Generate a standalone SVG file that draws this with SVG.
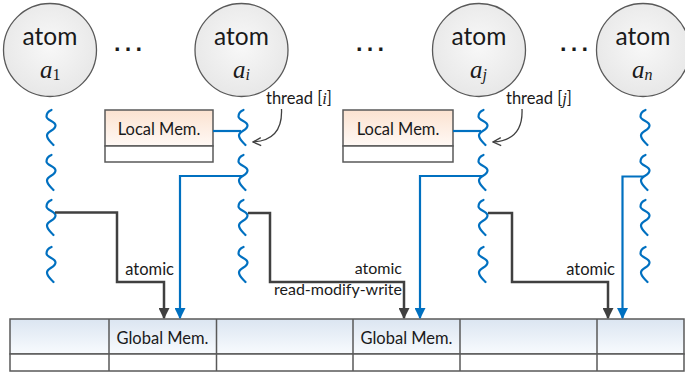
<svg xmlns="http://www.w3.org/2000/svg" xmlns:xlink="http://www.w3.org/1999/xlink" width="685" height="372" viewBox="0 0 685 372">
<defs>
<style>
.lbl{font-family:Lato,"Liberation Sans",sans-serif;font-size:16.5px;fill:#1a1a1a}
.sm{font-size:16px}
.atom{font-family:Lato,"Liberation Sans",sans-serif;font-size:24.5px;fill:#1a1a1a;text-anchor:middle}
.var{font-family:"Liberation Serif",serif;font-style:italic;font-size:25px;fill:#1a1a1a}
.sub{font-size:16px}
.node{fill:url(#gc);stroke:#595959;stroke-width:1.3}
.wave{fill:none;stroke:#0070c0;stroke-width:2.2;stroke-linecap:round}
.blk{fill:none;stroke:#404040;stroke-width:2.5}
.blu{fill:none;stroke:#0070c0;stroke-width:2.2}
.cell{stroke:#595959;stroke-width:1.5}
.dots{font-family:"Liberation Sans",sans-serif;font-size:34px;fill:#1a1a1a;text-anchor:middle}
</style>
<radialGradient id="gc" cx="0.5" cy="0.45" r="0.6">
<stop offset="0" stop-color="#f8f8f8"/>
<stop offset="1" stop-color="#e6e6e6"/>
</radialGradient>
<linearGradient id="gl" x1="0" y1="0" x2="0" y2="1">
<stop offset="0" stop-color="#fbe2d0"/>
<stop offset="1" stop-color="#fff9f5"/>
</linearGradient>
<linearGradient id="gg" x1="0" y1="0" x2="0" y2="1">
<stop offset="0" stop-color="#dbe5f1"/>
<stop offset="1" stop-color="#f8fbfe"/>
</linearGradient>
<path id="w" class="wave" d="M0.5,0 C-2,1 -4.5,3.5 -4.5,6.5 C-4.5,10.5 4.5,11 4.5,15.5 C4.5,20.5 -4,21 -4,25.5 C-4,29.5 0,32 2.5,35"/>
<marker id="ak" markerUnits="userSpaceOnUse" markerWidth="11" markerHeight="11" viewBox="0 0 10 10" refX="9" refY="5" orient="auto">
<path d="M0,0 L10,5 L0,10 z" fill="#404040"/>
</marker>
<marker id="ab" markerUnits="userSpaceOnUse" markerWidth="11" markerHeight="11" viewBox="0 0 10 10" refX="9" refY="5" orient="auto">
<path d="M0,0 L10,5 L0,10 z" fill="#0070c0"/>
</marker>
<marker id="ao" markerUnits="userSpaceOnUse" markerWidth="10" markerHeight="10" viewBox="0 0 10 10" refX="9" refY="5" orient="auto">
<path d="M1,1 L9,5 L1,9" fill="none" stroke="#404040" stroke-width="1.3"/>
</marker>
</defs>
<rect width="685" height="372" fill="#ffffff"/>

<g id="atom1">
<circle class="node" cx="50" cy="50" r="46.5"/>
<text class="atom" x="50" y="45">atom</text>
<text class="var" x="40" y="78">a<tspan class="sub" font-style="normal" dy="2">1</tspan></text>
</g>
<g id="atomi">
<circle class="node" cx="241.5" cy="50" r="46.5"/>
<text class="atom" x="241.5" y="45">atom</text>
<text class="var" x="233" y="78">a<tspan class="sub" dy="2">i</tspan></text>
</g>
<g id="atomj">
<circle class="node" cx="479" cy="50" r="46.5"/>
<text class="atom" x="479" y="45">atom</text>
<text class="var" x="470" y="78">a<tspan class="sub" dy="2">j</tspan></text>
</g>
<g id="atomn">
<circle class="node" cx="643" cy="50" r="46.5"/>
<text class="atom" x="643" y="45">atom</text>
<text class="var" x="632" y="78">a<tspan class="sub" dy="2">n</tspan></text>
</g>

<g id="ellipses">
<text class="dots" x="128" y="51">…</text>
<text class="dots" x="370" y="51">…</text>
<text class="dots" x="574" y="51">…</text>
</g>

<g id="threads">
<use xlink:href="#w" x="51" y="110"/><use xlink:href="#w" x="51" y="155"/><use xlink:href="#w" x="51" y="200"/><use xlink:href="#w" x="51" y="247"/>
<use xlink:href="#w" x="243" y="110"/><use xlink:href="#w" x="243" y="155"/><use xlink:href="#w" x="243" y="200"/><use xlink:href="#w" x="243" y="247"/>
<use xlink:href="#w" x="483" y="110"/><use xlink:href="#w" x="483" y="155"/><use xlink:href="#w" x="483" y="200"/><use xlink:href="#w" x="483" y="247"/>
<use xlink:href="#w" x="645" y="110"/><use xlink:href="#w" x="645" y="155"/><use xlink:href="#w" x="645" y="200"/><use xlink:href="#w" x="645" y="247"/>
</g>

<g id="localmem1">
<rect x="105" y="110" width="108" height="36" fill="url(#gl)" class="cell"/>
<rect x="105" y="146" width="108" height="16" fill="#ffffff" class="cell"/>
<text class="lbl" x="159" y="135" text-anchor="middle">Local Mem.</text>
</g>
<g id="localmem2">
<rect x="343" y="110" width="110" height="36" fill="url(#gl)" class="cell"/>
<rect x="343" y="146" width="110" height="16" fill="#ffffff" class="cell"/>
<text class="lbl" x="398" y="135" text-anchor="middle">Local Mem.</text>
</g>

<g id="globalmem">
<rect x="10" y="319" width="674" height="35" fill="url(#gg)" class="cell"/>
<rect x="10" y="354" width="674" height="17" fill="#ffffff" class="cell"/>
<path class="cell" fill="none" d="M109,319 V371 M216.5,319 V371 M353,319 V371 M460,319 V371 M597,319 V371"/>
<text class="lbl" x="162.5" y="344" text-anchor="middle">Global Mem.</text>
<text class="lbl" x="406.5" y="344" text-anchor="middle">Global Mem.</text>
</g>

<g id="labels">
<text class="lbl" x="266" y="104">thread [<tspan font-family="Liberation Serif" font-style="italic">i</tspan>]</text>
<text class="lbl" x="506" y="104">thread [<tspan font-family="Liberation Serif" font-style="italic">j</tspan>]</text>
<text class="lbl" x="174" y="275" text-anchor="end">atomic</text>
<text class="lbl sm" x="402" y="274" text-anchor="end">atomic</text>
<text class="lbl sm" x="402" y="294.5" text-anchor="end">read-modify-write</text>
<text class="lbl" x="615" y="275" text-anchor="end">atomic</text>
</g>

<g id="connectors">
<path class="blu" d="M213,131 H241"/>
<path class="blu" d="M453,131 H481"/>
<path class="blk" d="M55,212.5 H117 V282 H164 V318" marker-end="url(#ak)"/>
<path class="blu" d="M242,176 H180 V318" marker-end="url(#ab)"/>
<path class="blk" d="M248,213 H270 V282 H404 V318" marker-end="url(#ak)"/>
<path class="blu" d="M482,176 H420 V318" marker-end="url(#ab)"/>
<path class="blk" d="M488,213 H512 V282 H608 V318" marker-end="url(#ak)"/>
<path class="blu" d="M644,176.5 H622.5 V318" marker-end="url(#ab)"/>
<path d="M281.5,109 C282.5,131 272,141 253,142" fill="none" stroke="#404040" stroke-width="1.3" marker-end="url(#ao)"/>
<path d="M522,109 C523,131 512,141 493,142" fill="none" stroke="#404040" stroke-width="1.3" marker-end="url(#ao)"/>
</g>
</svg>
